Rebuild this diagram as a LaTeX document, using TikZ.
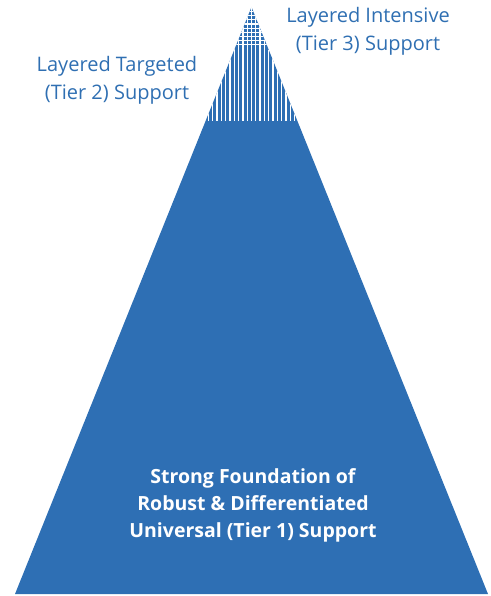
\documentclass[tikz,border=0pt]{standalone}
\usepackage{fontspec}
\setmainfont{Open Sans}
\definecolor{pyr}{HTML}{2E6FB4}
\definecolor{lab}{HTML}{2F6FB2}
\begin{document}
\begin{tikzpicture}[x=1pt,y=-1pt,
  lbl/.style={text=lab,font=\fontsize{20}{28}\selectfont,align=center,inner sep=0},
  wlbl/.style={text=white,font=\bfseries\fontsize{19.5}{27}\selectfont,align=center,inner sep=0},
  gap/.style={white,line width=1.3pt}]
\useasboundingbox (0,0) rectangle (490,596);
\coordinate (apex) at (251.5,7);
\coordinate (bl) at (15,594);
\coordinate (br) at (488,594);
\fill[pyr] (apex) -- (br) -- (bl) -- cycle;
% tiers 2 and 3: vertical stripes
\begin{scope}
  \clip (apex) -- (br) -- (bl) -- cycle;
  \clip (150,0) rectangle (350,121);
  \foreach \i in {-12,...,12} {
    \draw[gap] (251.5+4.3*\i,0) -- (251.5+4.3*\i,121);
  }
  \clip (150,0) rectangle (350,45);
  \foreach \j in {0,...,11} {
    \draw[gap] (200,45-4.2*\j) -- (300,45-4.2*\j);
  }
\end{scope}
\node[lbl] (t3) at (368,31) {Layered Intensive\\(Tier 3) Support};
\node[lbl] (t2) at (117,80) {Layered Targeted\\(Tier 2) Support};
\node[wlbl] (t1) at (253,505) {Strong Foundation of\\Robust \& Differentiated\\Universal (Tier 1) Support};
\end{tikzpicture}
\end{document}
